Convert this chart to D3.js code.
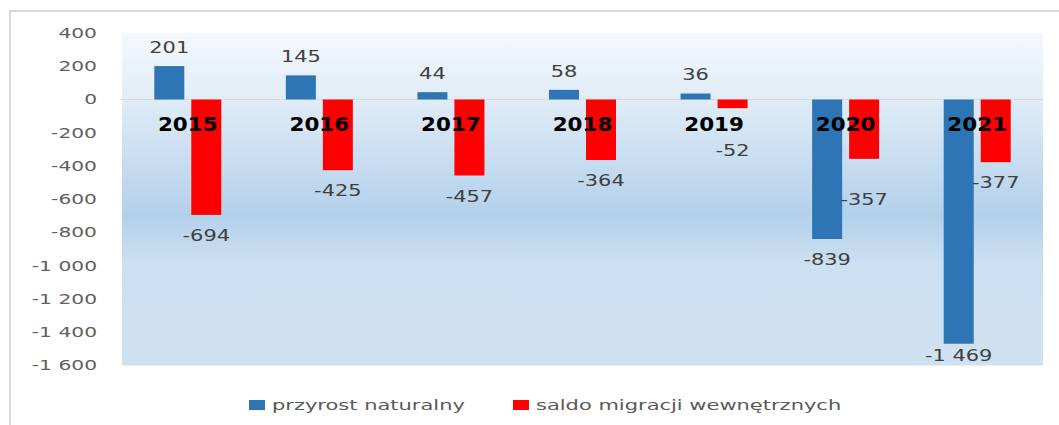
<!DOCTYPE html>
<html>
<head>
<meta charset="utf-8">
<script src="https://cdn.jsdelivr.net/npm/d3@7"></script>
<style>
  body { margin: 0; background: #fff; }
  text { font-family: "DejaVu Sans", Verdana, sans-serif; }
</style>
</head>
<body>
<div id="chart"></div>
<script>
// DATA
var years = ["2015", "2016", "2017", "2018", "2019", "2020", "2021"];
var seriesNames = ["przyrost naturalny", "saldo migracji wewnętrznych"];
var przyrost = [201, 145, 44, 58, 36, -839, -1469];
var saldo = [-694, -425, -457, -364, -52, -357, -377];
var yTicks = [400, 200, 0, -200, -400, -600, -800, -1000, -1200, -1400, -1600];

// layout / style
var colors = ["#2e75b6", "#ff0000"];
var width = 1059, height = 425;
var plot = {left: 122, right: 1043, top: 33, bottom: 365.5};
// manual label moves (px) like in the original sheet
var labelNudge = {"1-4": 22, "1-5": 20, "0-6": -9};

var fmt = d3.formatLocale({decimal: ",", thousands: " ", grouping: [3], currency: ["", ""], minus: "-"}).format(",d");

var svg = d3.select("#chart").append("svg")
    .attr("width", width)
    .attr("height", height);

// stretch text horizontally around its anchor x
function stretch(sel, k) {
  sel.attr("transform", function() {
    var x = +d3.select(this).attr("x");
    return "translate(" + (x * (1 - k)) + ",0) scale(" + k + ",1)";
  });
}

svg.append("rect").attr("width", width).attr("height", height).attr("fill", "#fff");
svg.append("rect")
    .attr("x", 10).attr("y", 11)
    .attr("width", 1070).attr("height", 430)
    .attr("fill", "none").attr("stroke", "#d9d9d9").attr("stroke-width", 2);

// plot background gradient
var grad = svg.append("defs").append("linearGradient")
    .attr("id", "bg").attr("x1", 0).attr("y1", 0).attr("x2", 0).attr("y2", 1);
[[0, "#f4f8fc"], [0.2, "#e0ecf7"], [0.42, "#c3daef"], [0.55, "#b3d0ea"], [0.7, "#cde0f1"], [1, "#cfe1f1"]].forEach(function(s) {
  grad.append("stop").attr("offset", s[0]).attr("stop-color", s[1]);
});
svg.append("rect")
    .attr("x", plot.left).attr("y", plot.top)
    .attr("width", plot.right - plot.left).attr("height", plot.bottom - plot.top)
    .attr("fill", "url(#bg)");

// scales
var y = d3.scaleLinear().domain([-1600, 400]).range([plot.bottom, plot.top]);
var x = d3.scaleBand().domain(years).range([plot.left, plot.right]).padding(0);
var bw = x.bandwidth();
var xs = d3.scaleBand().domain([0, 1])
    .range([bw / 2 - 33.5, bw / 2 + 33.5]).paddingInner(0.189).paddingOuter(0);

// y axis labels
var yAxis = svg.append("g")
    .attr("transform", "translate(97,0)")
    .call(d3.axisLeft(y).tickValues(yTicks).tickFormat(fmt).tickSize(0).tickPadding(0));
yAxis.select(".domain").remove();
yAxis.selectAll("text")
    .attr("fill", "#5f5f5f")
    .style("font-size", "13.5px")
    .style("font-family", "DejaVu Sans")
    .attr("x", 0)
    .attr("transform", "scale(1.5,1)");

// zero line
svg.append("line")
    .attr("x1", plot.left - 2).attr("x2", plot.right)
    .attr("y1", y(0)).attr("y2", y(0))
    .attr("stroke", "#d9d9d9").attr("stroke-width", 1);

var data = [przyrost, saldo];
var rows = [];
data.forEach(function(vals, s) {
  vals.forEach(function(v, i) { rows.push({s: s, i: i, year: years[i], value: v}); });
});

// bars
svg.append("g").selectAll("rect")
    .data(rows)
    .enter().append("rect")
    .attr("x", d => x(d.year) + xs(d.s))
    .attr("width", xs.bandwidth())
    .attr("y", d => y(Math.max(0, d.value)))
    .attr("height", d => Math.abs(y(d.value) - y(0)))
    .attr("fill", d => colors[d.s]);

// year labels (category axis drawn inside plot)
var yl = svg.append("g").selectAll("text")
    .data(years)
    .enter().append("text")
    .attr("x", d => x(d) + bw / 2)
    .attr("y", 131)
    .attr("text-anchor", "middle")
    .style("font-size", "19px")
    .style("font-weight", "bold")
    .attr("fill", "#000")
    .text(d => d);
stretch(yl, 1.13);

// value labels
var vl = svg.append("g").selectAll("text")
    .data(rows)
    .enter().append("text")
    .attr("x", d => x(d.year) + xs(d.s) + xs.bandwidth() / 2)
    .attr("y", function(d) {
      var c = d.value >= 0 ? y(d.value) - 19 : y(d.value) + 20.5;
      c += labelNudge[d.s + "-" + d.i] || 0;
      return c + 5.7;
    })
    .attr("text-anchor", "middle")
    .style("font-size", "15.5px")
    .attr("fill", "#404040")
    .text(d => fmt(d.value));
stretch(vl, 1.35);

// legend
var legendX = [249, 513];
var lg = svg.append("g").selectAll("g")
    .data(seriesNames)
    .enter().append("g");
lg.append("rect")
    .attr("x", (d, i) => legendX[i]).attr("y", 400)
    .attr("width", 16).attr("height", 10)
    .attr("fill", (d, i) => colors[i]);
var lt = lg.append("text")
    .attr("x", (d, i) => legendX[i] + 23)
    .attr("y", 410)
    .style("font-size", "14px")
    .attr("fill", "#595959")
    .text(d => d);
stretch(lt, 1.5);
</script>
</body>
</html>
